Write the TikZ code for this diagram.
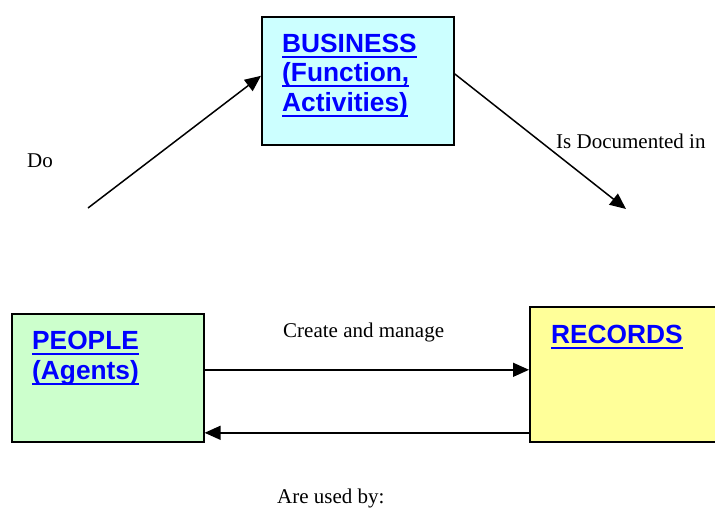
\documentclass[tikz,border=0pt]{standalone}
\usepackage{fontspec}
\setmainfont{Liberation Serif}
\newfontfamily\boxfont{Liberation Sans}
\usetikzlibrary{arrows.meta,calc}
\definecolor{bizfill}{HTML}{CCFFFF}
\definecolor{pplfill}{HTML}{CCFFCC}
\definecolor{recfill}{HTML}{FFFF99}
\definecolor{linkblue}{HTML}{0000FF}
\newcommand\bluline[1]{\setbox0\hbox{#1}\rlap{\rule[-5.8pt]{\wd0}{2.2pt}}\box0}
\tikzset{
  boxnode/.style={draw=black, line width=1.6pt, inner sep=0pt, anchor=north west},
  boxtext/.style={anchor=base west, inner sep=0pt, text=linkblue, font=\boxfont\bfseries\fontsize{26.3}{30}\selectfont},
  lbl/.style={anchor=base west, inner sep=0pt, font=\fontsize{21}{25}\selectfont},
  arr/.style={line width=1.5pt, -{Triangle[length=16pt,width=14pt]}}
}
\begin{document}
\begin{tikzpicture}[x=1pt,y=-1pt]
\useasboundingbox (0,0) rectangle (715,509);
\clip (0,0) rectangle (715,509);
% boxes
\node[boxnode, fill=bizfill, minimum width=192pt, minimum height=128pt] (bus) at (261,16) {};
\node[boxnode, fill=pplfill, minimum width=192pt, minimum height=128pt] (ppl) at (11,313) {};
\node[boxnode, fill=recfill, minimum width=200pt, minimum height=135pt] (rec) at (529,306) {};
% box texts
\node[boxtext] (bus1) at (282,52) {\bluline{BUSINESS}};
\node[boxtext] (bus2) at (282,81.5) {\bluline{(Function,}};
\node[boxtext] (bus3) at (282,111) {\bluline{Activities)}};
\node[boxtext] (ppl1) at (32,349) {\bluline{PEOPLE}};
\node[boxtext] (ppl2) at (32,379) {\bluline{(Agents)}};
\node[boxtext] (rec1) at (551,343) {\bluline{RECORDS}};
% labels
\node[lbl] (ldo) at (27,167) {Do};
\node[lbl] (ldoc) at (556,148) {Is Documented in};
\node[lbl] (lcre) at (283,337) {Create and manage};
\node[lbl] (luse) at (277,503.5) {Are used by:};
% free ends
\coordinate (doStart) at (88,208);
\coordinate (docEnd) at (626,209);
% connectors
\draw[arr] (doStart) -- ([yshift=5pt]bus.west);
\draw[arr] ([yshift=7pt]bus.east) -- (docEnd);
\draw[arr] ([yshift=8pt]ppl.east) -- ([yshift=8pt]ppl.east -| rec.west);
\draw[arr] ([yshift=-58.5pt]rec.west) -- ([yshift=-58.5pt]rec.west -| ppl.east);
\end{tikzpicture}
\end{document}
